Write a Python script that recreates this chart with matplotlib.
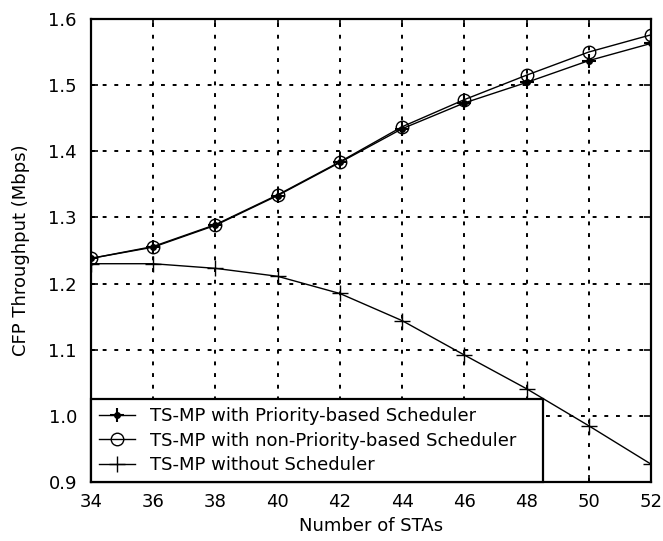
import numpy as np
import matplotlib
matplotlib.use("Agg")
from matplotlib import pyplot as plt
from matplotlib.legend_handler import HandlerTuple

plt.rcParams['font.family'] = ['DejaVu Sans']

stas = [34, 36, 38, 40, 42, 44, 46, 48, 50, 52]
priority = [1.238, 1.255, 1.288, 1.333, 1.383, 1.434, 1.473, 1.504, 1.537, 1.563]
non_priority = [1.238, 1.256, 1.289, 1.334, 1.384, 1.437, 1.478, 1.515, 1.550, 1.576]
no_sched = [1.230, 1.230, 1.223, 1.211, 1.185, 1.144, 1.092, 1.041, 0.985, 0.927]
labels = ['TS-MP with Priority-based Scheduler',
          'TS-MP with non-Priority-based Scheduler',
          'TS-MP without Scheduler']

fig = plt.figure(figsize=(6.63, 5.41), dpi=100)
ax = fig.add_axes([0.137, 0.109, 0.845, 0.856])

# priority marker: plus with a filled dot in the middle
p1, = ax.plot(stas, priority, color='black', lw=1, marker='+', ms=10, mew=1.5)
p1b, = ax.plot(stas, priority, color='black', lw=0, marker='o', ms=4)
p2, = ax.plot(stas, non_priority, color='black', lw=1, marker='o', ms=9,
              mfc='none', mew=1)
p3, = ax.plot(stas, no_sched, color='black', lw=1, marker='+', ms=11, mew=1)

ax.set_xlim(34, 52)
ax.set_ylim(0.9, 1.6)
ax.set_xticks(stas)
ax.set_yticks(np.arange(0.9, 1.61, 0.1))
ax.set_yticklabels(['0.9', '1.0', '1.1', '1.2', '1.3', '1.4', '1.5', '1.6'])
ax.grid(True, color='black', linestyle=(0, (2, 4)), linewidth=1.4)
ax.tick_params(direction='in', top=True, right=True, labelsize=13, length=5,
               width=1.2)
ax.tick_params(axis='x', pad=8)
ax.tick_params(axis='y', pad=10)
for s in ax.spines.values():
    s.set_linewidth(1.6)

ax.set_xlabel('Number of STAs', fontsize=13, labelpad=4)
ax.set_ylabel('CFP Throughput (Mbps)', fontsize=13, labelpad=13)

leg = ax.legend([(p1, p1b), p2, p3], labels, loc='lower left',
                bbox_to_anchor=(0, 0, 452 / 560, 0.2), mode='expand',
                handler_map={tuple: HandlerTuple(ndivide=1, pad=0)},
                fontsize=13, fancybox=False, framealpha=1, edgecolor='black',
                borderaxespad=0, handlelength=2.0, handletextpad=0.8,
                labelspacing=0.35, borderpad=0.45)
leg.get_frame().set_linewidth(1.6)

fig.savefig('out.png', dpi=100)
